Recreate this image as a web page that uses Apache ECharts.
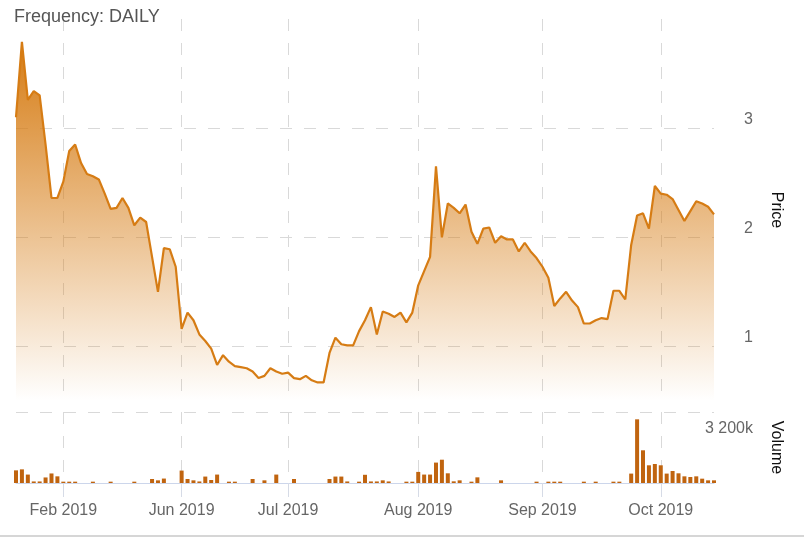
<!DOCTYPE html>
<html><head><meta charset="utf-8">
<script src="https://cdn.jsdelivr.net/npm/echarts@6/dist/echarts.min.js"></script>
<style>
html,body{margin:0;padding:0;background:#fff;overflow:hidden;width:804px;height:538px}
#chart{width:804px;height:535px;border-bottom:2px solid #d6d6d6}
</style></head>
<body><div id="chart"></div>
<script>
const titleText = 'Frequency: DAILY';

const dates = [
 '2019-01-22','2019-01-23','2019-01-24','2019-01-25','2019-01-28','2019-01-29','2019-01-30','2019-01-31',
 '2019-02-01','2019-02-07','2019-02-14','2019-02-21','2019-02-28','2019-03-07','2019-03-14','2019-03-21','2019-03-28',
 '2019-04-04','2019-04-11','2019-04-18','2019-04-25','2019-05-02','2019-05-09','2019-05-16','2019-05-21','2019-05-23','2019-05-28','2019-05-31',
 '2019-06-03','2019-06-04','2019-06-05','2019-06-06','2019-06-07','2019-06-10','2019-06-11','2019-06-12','2019-06-13',
 '2019-06-17','2019-06-18','2019-06-19','2019-06-20','2019-06-21','2019-06-24','2019-06-25','2019-06-26','2019-06-28',
 '2019-07-01','2019-07-02','2019-07-03','2019-07-05','2019-07-08','2019-07-09','2019-07-10','2019-07-11','2019-07-12',
 '2019-07-15','2019-07-16','2019-07-17','2019-07-18','2019-07-19','2019-07-22','2019-07-23','2019-07-24','2019-07-25',
 '2019-07-26','2019-07-29','2019-07-30','2019-07-31',
 '2019-08-01','2019-08-02','2019-08-05','2019-08-06','2019-08-07','2019-08-08','2019-08-09','2019-08-12','2019-08-13',
 '2019-08-14','2019-08-15','2019-08-19','2019-08-20','2019-08-21','2019-08-22','2019-08-23','2019-08-26','2019-08-27',
 '2019-08-28','2019-08-29','2019-08-30',
 '2019-09-03','2019-09-04','2019-09-05','2019-09-06','2019-09-09','2019-09-10','2019-09-11','2019-09-12','2019-09-13',
 '2019-09-16','2019-09-17','2019-09-18','2019-09-19','2019-09-20','2019-09-23','2019-09-24','2019-09-25','2019-09-26',
 '2019-09-27','2019-09-30',
 '2019-10-01','2019-10-02','2019-10-03','2019-10-04','2019-10-07','2019-10-08','2019-10-09','2019-10-10','2019-10-11','2019-10-14'
];

const tickLabels = ['Feb 2019','Jun 2019','Jul 2019','Aug 2019','Sep 2019','Oct 2019'];

const price = [
 3.10,3.79,3.26,3.34,3.30,2.85,2.36,2.36,2.51,2.79,
 2.85,2.68,2.58,2.56,2.53,2.40,2.26,2.27,2.36,2.27,
 2.11,2.18,2.14,1.82,1.50,1.90,1.89,1.73,1.16,1.31,
 1.24,1.11,1.05,0.98,0.83,0.92,0.86,0.82,0.81,0.80,
 0.77,0.71,0.73,0.80,0.77,0.75,0.76,0.71,0.70,0.73,
 0.69,0.67,0.67,0.94,1.08,1.02,1.01,1.01,1.14,1.24,
 1.36,1.11,1.32,1.30,1.27,1.31,1.22,1.31,1.56,1.69,
 1.82,2.65,2.00,2.31,2.27,2.22,2.30,2.05,1.94,2.08,
 2.09,1.95,2.01,1.98,1.98,1.87,1.95,1.87,1.81,1.73,
 1.63,1.37,1.44,1.50,1.42,1.36,1.21,1.21,1.24,1.26,
 1.25,1.51,1.51,1.43,1.93,2.20,2.22,2.08,2.47,2.40,
 2.39,2.35,2.25,2.15,2.24,2.33,2.31,2.28,2.21
];

// volume in thousands
const volumeK = [
 570,615,380,70,70,250,430,300,60,60,
 60,0,0,60,0,0,60,0,0,0,
 60,0,0,180,120,200,0,0,560,180,
 120,70,290,135,380,0,60,60,0,0,
 180,0,120,0,380,0,0,180,0,0,
 0,0,0,180,290,290,70,0,60,370,
 70,70,120,70,0,0,60,60,500,380,
 380,920,1050,437,75,120,0,60,255,0,
 0,0,120,0,0,0,0,0,60,0,
 60,60,60,0,0,0,60,0,60,0,
 0,60,60,0,424,2870,1474,798,856,798,
 424,541,437,300,270,300,195,120,120
];

const priceTicks = [1, 2, 3];
const volumeTicks = [3200];

const MONTHS = ['Jan','Feb','Mar','Apr','May','Jun','Jul','Aug','Sep','Oct','Nov','Dec'];
function monthLabel(d) { const p = d.split('-'); return MONTHS[+p[1] - 1] + ' ' + p[0]; }
function isTick(i) {
  const m = monthLabel(dates[i]);
  return tickLabels.indexOf(m) >= 0 && (i === 0 || monthLabel(dates[i - 1]) !== m);
}
const tickFn = (i) => isTick(i);
const gridDash = { color: '#d9d9d9', width: 1, type: [12, 12] };
const FONT = '"Liberation Sans", Arial, sans-serif';

const chart = echarts.init(document.getElementById('chart'), null, { renderer: 'canvas' });
chart.setOption({
  animation: false,
  backgroundColor: '#fff',
  textStyle: { fontFamily: FONT },
  title: {
    text: titleText, left: 14, top: 8, padding: 0,
    textStyle: { fontFamily: FONT, fontSize: 18, fontWeight: 'normal', color: '#555' }
  },
  grid: [
    { left: 16, right: 90, top: 19, height: 382, outerBoundsMode: 'none', containLabel: false },
    { left: 16, right: 90, top: 412, height: 71, outerBoundsMode: 'none', containLabel: false }
  ],
  xAxis: [
    {
      type: 'category', gridIndex: 0, data: dates, boundaryGap: false,
      axisLine: { show: false }, axisTick: { show: false }, axisLabel: { show: false },
      splitLine: { show: true, interval: tickFn, lineStyle: gridDash }
    },
    {
      type: 'category', gridIndex: 1, data: dates, boundaryGap: false,
      axisLine: { show: true, lineStyle: { color: '#ccd6eb', width: 1 } },
      axisTick: { show: true, interval: tickFn, length: 14, lineStyle: { color: '#d6dbe6' } },
      axisLabel: { interval: tickFn, formatter: (v) => monthLabel(v), color: '#666', fontSize: 16, margin: 20, fontFamily: FONT },
      splitLine: { show: true, interval: tickFn, lineStyle: gridDash }
    }
  ],
  yAxis: [
    {
      type: 'value', gridIndex: 0, position: 'right', min: 0.5, max: 4,
      axisLine: { show: false },
      axisTick: { show: false, customValues: priceTicks },
      axisLabel: { customValues: priceTicks, color: '#666', fontSize: 16, align: 'right', margin: 39,
                   verticalAlign: 'bottom', padding: [0, 0, 1, 0], fontFamily: FONT },
      splitLine: { show: true, lineStyle: gridDash },
      name: 'Price', nameLocation: 'middle', nameRotate: -90, nameGap: 54,
      nameTextStyle: { color: '#111', fontSize: 16, fontFamily: FONT }
    },
    {
      type: 'value', gridIndex: 1, position: 'right', min: 0, max: 3200,
      axisLine: { show: false },
      axisTick: { show: false, customValues: volumeTicks },
      axisLabel: { customValues: volumeTicks, color: '#666', fontSize: 16, align: 'right', margin: 39,
                   verticalAlign: 'top', padding: [9, 0, 0, 0], fontFamily: FONT,
                   formatter: (v) => String(v).replace(/\B(?=(\d{3})+(?!\d))/g, ' ') + 'k' },
      splitLine: { show: true, lineStyle: gridDash },
      name: 'Volume', nameLocation: 'middle', nameRotate: -90, nameGap: 54,
      nameTextStyle: { color: '#111', fontSize: 16, fontFamily: FONT }
    }
  ],
  series: [
    {
      type: 'line', xAxisIndex: 0, yAxisIndex: 0, data: price, symbol: 'none',
      lineStyle: { color: '#d67c14', width: 2.2 },
      areaStyle: {
        opacity: 1,
        color: new echarts.graphic.LinearGradient(0, 0, 0, 1, [
          { offset: 0, color: 'rgba(214,124,20,1)' },
          { offset: 1, color: 'rgba(214,124,20,0)' }
        ])
      }
    },
    {
      type: 'bar', xAxisIndex: 1, yAxisIndex: 1, data: volumeK, barWidth: 4, clip: false,
      itemStyle: { color: '#c0640f' }
    }
  ]
});
</script>
</body></html>
